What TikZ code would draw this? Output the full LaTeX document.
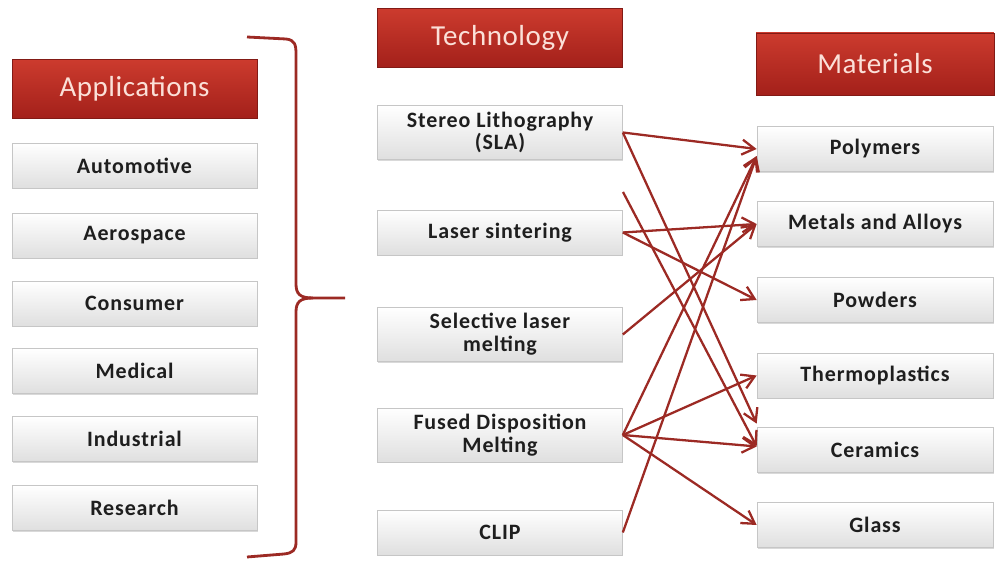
\documentclass[tikz,border=0pt]{standalone}
\usepackage{fontspec}
\setmainfont{Carlito}
\newfontfamily\boxfont[LetterSpace=4]{Carlito}
\newfontfamily\headfont[LetterSpace=2]{Carlito}
\usepackage{tikz}
\usetikzlibrary{arrows.meta, calc, shadows}

\definecolor{hdrtop}{HTML}{CC3B2E}
\definecolor{hdrbot}{HTML}{A3201A}
\definecolor{hdrtext}{HTML}{FBE0D8}
\definecolor{linkred}{HTML}{9C2A24}
\definecolor{boxtext}{HTML}{1E1E1E}

\begin{document}
\begin{tikzpicture}[
    x=0.02cm, y=-0.02cm,
    header/.style={rectangle, draw=hdrbot!80!black, top color=hdrtop, bottom color=hdrbot, minimum height=1.18cm, minimum width=4.9cm, align=center, text=hdrtext, font=\headfont\fontsize{16.5}{18}\selectfont},
    item/.style={rectangle, draw=gray!45, top color=white, bottom color=gray!25, minimum height=0.9cm, minimum width=4.9cm, align=center, text=boxtext, font=\boxfont\bfseries\fontsize{12.5}{13}\selectfont, drop shadow={shadow xshift=0.5pt, shadow yshift=-0.8pt, opacity=0.3}},
    arrow/.style={-{Straight Barb[length=2.5mm, width=3mm]}, line width=1.3pt, draw=linkred},
    brace/.style={line width=1.6pt, draw=linkred}
]
\useasboundingbox (0,0) rectangle (995,563);

% column 1: applications
\node[header] (apps) at (134.5, 89) {Applications};
\node[item] (auto) at (134.5, 165.5) {Automotive};
\node[item] (aero) at (134.5, 235.5) {Aerospace};
\node[item] (cons) at (134.5, 303.5) {Consumer};
\node[item] (med) at (134.5, 371) {Medical};
\node[item] (ind) at (134.5, 439) {Industrial};
\node[item] (res) at (134.5, 508) {Research};

% column 2: technology
\node[header] (tech) at (500, 38) {Technology};
\node[item] (sla) at (500, 132.5) {Stereo Lithography\\(SLA)};
\node[item] (laser) at (500, 232.5) {Laser sintering};
\node[item] (slm) at (500, 334.5) {Selective laser\\melting};
\node[item, minimum height=0.98cm] (fdm) at (500, 435) {Fused Disposition\\Melting};
\node[item] (clip) at (500, 532.5) {CLIP};

% column 3: materials
\node[header, minimum width=4.76cm, minimum height=1.24cm] (mat) at (875, 64) {Materials};
\node[item, minimum width=4.72cm] (poly) at (875, 149) {Polymers};
\node[item, minimum width=4.72cm] (metal) at (875, 224) {Metals and Alloys};
\node[item, minimum width=4.72cm] (pow) at (875, 300) {Powders};
\node[item, minimum width=4.72cm] (thermo) at (875, 375.5) {Thermoplastics};
\node[item, minimum width=4.72cm] (cer) at (875, 450) {Ceramics};
\node[item, minimum width=4.72cm] (glass) at (875, 525) {Glass};

% brace
\draw[brace] (247,37) -- (286,39) .. controls (295,40) and (296,45) .. (296,54)
    -- (296,284) .. controls (296,294) and (300,298) .. (313,298) -- (345,298);
\draw[brace] (313,298) .. controls (300,298) and (296,302) .. (296,312)
    -- (296,542) .. controls (296,550) and (293,553) .. (284,554) -- (247,557);

% links
\coordinate (loose) at (623,192);
\draw[arrow] (sla.east) -- (poly.west);
\draw[arrow] (sla.east) -- ([yshift=2pt]cer.north west);
\draw[arrow] (loose) -- ([yshift=2pt]cer.west);
\draw[arrow] (laser.east) -- (metal.west);
\draw[arrow] (laser.east) -- (pow.west);
\draw[arrow] (slm.east) -- (metal.west);
\draw[arrow] (fdm.east) -- ([yshift=-4pt]poly.west);
\draw[arrow] (clip.east) -- ([yshift=-4pt]poly.west);
\draw[arrow] (fdm.east) -- (thermo.west);
\draw[arrow] (fdm.east) -- ([yshift=2pt]cer.west);
\draw[arrow] (fdm.east) -- (glass.west);

\end{tikzpicture}
\end{document}
